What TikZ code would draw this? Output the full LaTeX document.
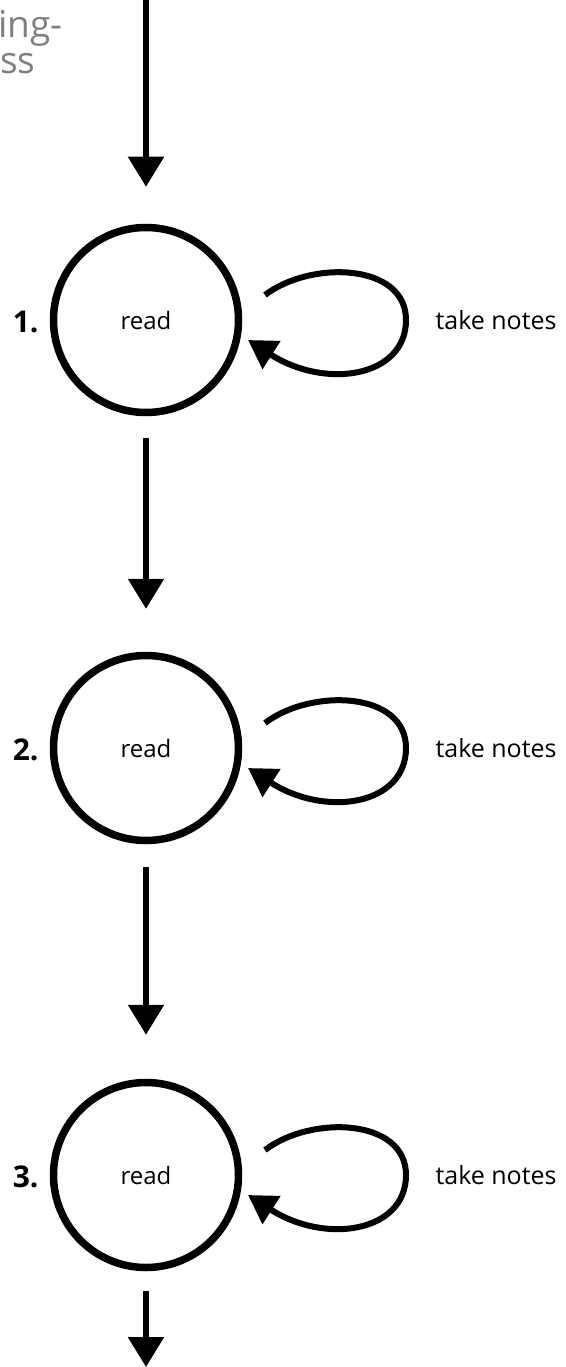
\documentclass[tikz,border=0pt]{standalone}
\usepackage{fontspec}
\setmainfont{Open Sans}
\usetikzlibrary{arrows.meta,calc}
\begin{document}
\begin{tikzpicture}[x=1pt,y=-1pt,
  state/.style={circle,draw,line width=7.5pt,minimum size=185pt,inner sep=0pt,font=\fontsize{24}{28}\selectfont},
  flow/.style={line width=5.5pt,-{Triangle[length=30pt,width=35pt]}},
  loopline/.style={line width=6pt,-{Triangle[length=28pt,width=32pt]}},
  note/.style={anchor=west,font=\fontsize{25}{30}\selectfont},
  num/.style={anchor=east,font=\bfseries\fontsize{30}{34}\selectfont},
  faded/.style={text=black!50,font=\fontsize{37}{44}\selectfont,anchor=base west,inner sep=0pt}]
\useasboundingbox (0,0) rectangle (565,1367);
\node[faded] (g1) at (-2,38) {ing-};
\node[faded] (g2) at (0,74) {ss};
\node[state] (c1) at (146,320) {read};
\node[state] (c2) at (146,748) {read};
\node[state] (c3) at (146,1175) {read};
\coordinate (top) at (146,0);
\coordinate (bot) at (146,1367);
\draw[flow,shorten >=37pt] (top) -- (c1.north);
\draw[flow,shorten <=22pt,shorten >=43pt] (c1.south) -- (c2.north);
\draw[flow,shorten <=23pt,shorten >=44pt] (c2.south) -- (c3.north);
\draw[flow,shorten <=20pt] (c3.south) -- (bot);
\foreach \c/\n in {c1/1,c2/2,c3/3}{
  \node[num] (n\n) at ($(\c)+(-104,2)$) {\n.};
  \node[note] (t\n) at ($(\c)+(286,0)$) {take notes};
  \draw[loopline] ($(\c)+(119,-25)$) .. controls ($(\c)+(165,-60)$) and ($(\c)+(260,-57)$) .. ($(\c)+(260,0)$)
     .. controls ($(\c)+(260,57)$) and ($(\c)+(180,70)$) .. ($(\c)+(102,20)$);
}
\end{tikzpicture}
\end{document}
